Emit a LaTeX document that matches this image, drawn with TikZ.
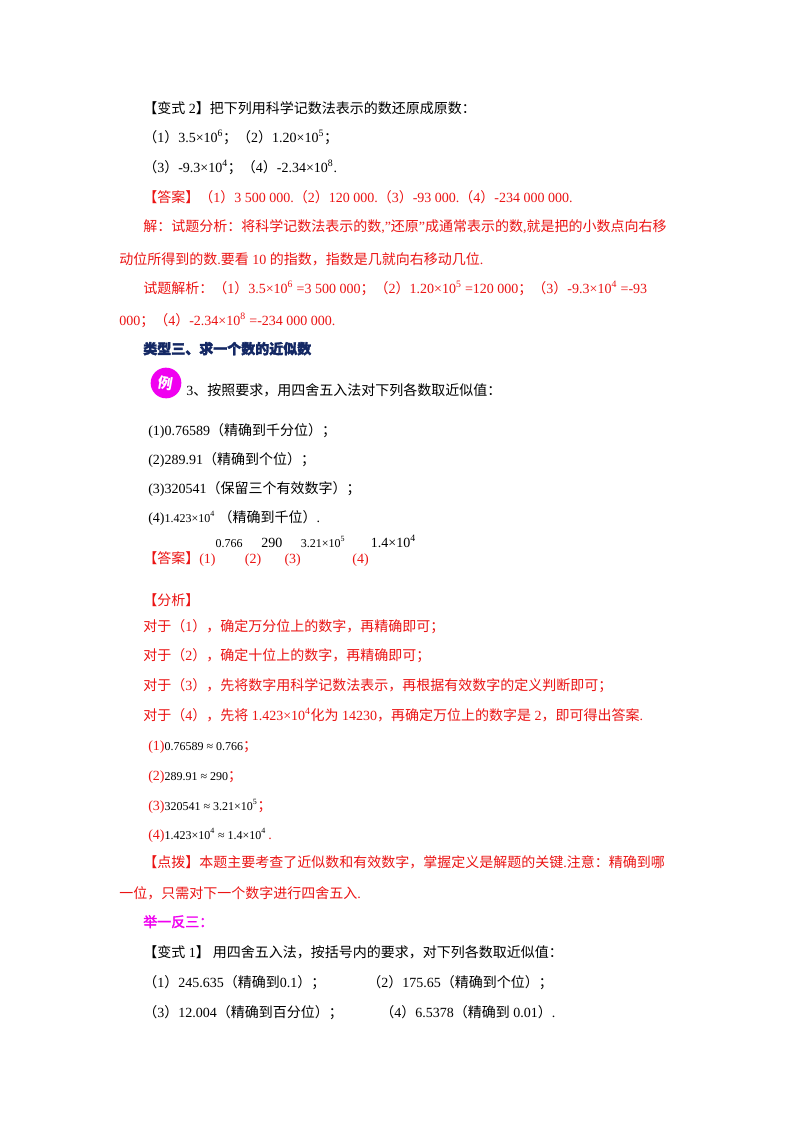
\documentclass[tikz,border=0pt]{standalone}
\usepackage{fontspec}
\setmainfont{Liberation Serif}
\newfontfamily\cjk{Noto Sans CJK SC}
\newcommand\z[1]{{\cjk #1}}
\newcommand\sps[1]{\textsuperscript{#1}}
\definecolor{ared}{RGB}{235,20,20}
\definecolor{anavy}{RGB}{20,40,100}
\definecolor{amag}{RGB}{240,0,240}
\begin{document}
\begin{tikzpicture}[x=0.75pt,y=-0.75pt,
  t/.style={anchor=base west,inner sep=0,font=\fontsize{10.5}{12}\selectfont},
  r/.style={t,text=ared}]
\useasboundingbox[fill=white] (0,0) rectangle (800,1132);
\node[t] (l1) at (143,113) {\z{【变式} 2\z{】把下列用科学记数法表示的数还原成原数：}};
\node[t] (l2) at (143,142) {\z{（}1\z{）}3.5×10\sps{6}\z{；（}2\z{）}1.20×10\sps{5}\z{；}};
\node[t] (l3) at (143,172) {\z{（}3\z{）}-9.3×10\sps{4}\z{；（}4\z{）}-2.34×10\sps{8}.};
\node[r] (l4) at (143,202) {\z{【答案】（}1\z{）}3 500 000.\z{（}2\z{）}120 000.\z{（}3\z{）}-93 000.\z{（}4\z{）}-234 000 000.};
\node[r] (l5) at (143,231) {\z{解：试题分析：将科学记数法表示的数}{,}"\z{还原}"\z{成通常表示的数}{,}\z{就是把的小数点向右移}};
\node[r] (l6) at (119,264) {\z{动位所得到的数}.\z{要看} 10 \z{的指数，指数是几就向右移动几位}.};
\node[r] (l7) at (143,293) {\z{试题解析：（}1\z{）}3.5×10\sps{6} =3 500 000\z{；（}2\z{）}1.20×10\sps{5} =120 000\z{；（}3\z{）}-9.3×10\sps{4} =-93};
\node[r] (l8) at (119,325) {000\z{；（}4\z{）}-2.34×10\sps{8} =-234 000 000.};
\node[t,text=anavy,font=\fontsize{10.5}{12}\selectfont\bfseries] (l9) at (143,354) {\z{\addfontfeature{FakeBold=2}类型三、求一个数的近似数}};
\node[circle,fill=amag,minimum size=23pt,inner sep=0,text=white,font=\cjk\bfseries\fontsize{11}{12}\selectfont,rotate=-10] (li) at (166,383) {例};
\node[t] (l10) at (186,395) {3\z{、按照要求，用四舍五入法对下列各数取近似值：}};
\node[t] (l11) at (148,435) {(1)0.76589\z{（精确到千分位）；}};
\node[t] (l12) at (148,464) {(2)289.91\z{（精确到个位）；}};
\node[t] (l13) at (148,493) {(3)320541\z{（保留三个有效数字）；}};
\node[t] (l14) at (148,522) {(4){\fontsize{9}{10}\selectfont 1.423×10\sps{4}}\ \z{（精确到千位）}.};
\node[r] (l15) at (143,563) {\z{【答案】}(1)\raisebox{12pt}{\color{black}\fontsize{9}{10}\selectfont 0.766}\,(2)\raisebox{12pt}{\color{black}290}\,(3)\raisebox{12pt}{\color{black}\fontsize{9}{10}\selectfont 3.21×10\sps{5}}\ \ (4)\,\raisebox{12pt}{\color{black}1.4×10\sps{4}}};
\node[r] (l16) at (143,605) {\z{【分析】}};
\node[r] (l17) at (143,631) {\z{对于（}1\z{），确定万分位上的数字，再精确即可；}};
\node[r] (l18) at (143,660) {\z{对于（}2\z{），确定十位上的数字，再精确即可；}};
\node[r] (l19) at (143,690) {\z{对于（}3\z{），先将数字用科学记数法表示，再根据有效数字的定义判断即可；}};
\node[r] (l20) at (143,720) {\z{对于（}4\z{），先将} 1.423×10\sps{4}\z{化为} 14230\z{，再确定万位上的数字是} 2\z{，即可得出答案}.};
\node[r] (l21) at (148,750) {(1){\color{black}\fontsize{9}{10}\selectfont 0.76589 ≈ 0.766}\z{；}};
\node[r] (l22) at (148,780) {(2){\color{black}\fontsize{9}{10}\selectfont 289.91 ≈ 290}\z{；}};
\node[r] (l23) at (148,810) {(3){\color{black}\fontsize{9}{10}\selectfont 320541 ≈ 3.21×10\sps{5}}\z{；}};
\node[r] (l24) at (148,839) {(4){\color{black}\fontsize{9}{10}\selectfont 1.423×10\sps{4} ≈ 1.4×10\sps{4}}\,.};
\node[r] (l25) at (143,867) {\z{【点拨】本题主要考查了近似数和有效数字，掌握定义是解题的关键}.\z{注意：精确到哪}};
\node[r] (l26) at (119,898) {\z{一位，只需对下一个数字进行四舍五入}.};
\node[t,text=amag] (l27) at (143,927) {\z{\addfontfeature{FakeBold=2}举一反三：}};
\node[t] (l28) at (143,957) {\z{【变式} 1\z{】 用四舍五入法，按括号内的要求，对下列各数取近似值：}};
\node[t] (l29) at (143,987) {\z{（}1\z{）}245.635\z{（精确到}0.1\z{）；}};
\node[t] (l29b) at (367,987) {\z{（}2\z{）}175.65\z{（精确到个位）；}};
\node[t] (l30) at (143,1017) {\z{（}3\z{）}12.004\z{（精确到百分位）；}};
\node[t] (l30b) at (380,1017) {\z{（}4\z{）}6.5378\z{（精确到} 0.01\z{）}.};
\end{tikzpicture}
\end{document}
